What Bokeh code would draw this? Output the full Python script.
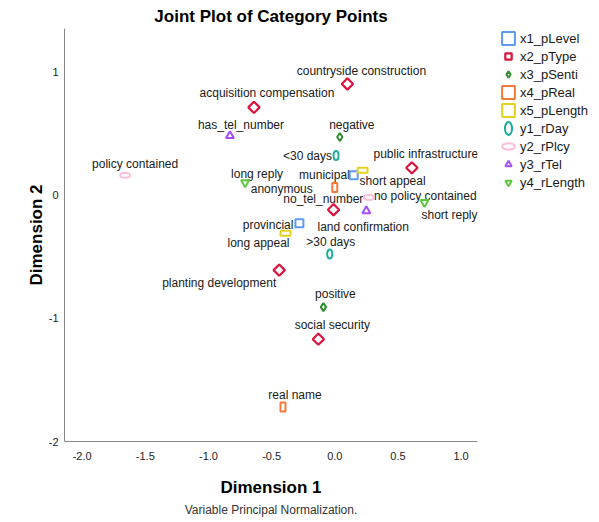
import math
from bokeh.plotting import figure
from bokeh.models import (ColumnDataSource, Legend, LegendItem, Title, FixedTicker,
                          PrintfTickFormatter, Range1d)
from bokeh.embed import file_html
from bokeh.resources import INLINE
from bokeh.core.properties import value, field

# ---------------- data ----------------
series_names = ["x1_pLevel", "x2_pType", "x3_pSenti", "x4_pReal", "x5_pLength",
                "y1_rDay", "y2_rPlcy", "y3_rTel", "y4_rLength"]

x1_labels = ["municipal", "provincial"]
x1_dim1 = [0.15, -0.28]
x1_dim2 = [0.16, -0.23]

x2_labels = ["countryside construction", "acquisition compensation", "public infrastructure",
             "land confirmation", "planting development", "social security"]
x2_dim1 = [0.10, -0.64, 0.61, -0.01, -0.44, -0.13]
x2_dim2 = [0.90, 0.71, 0.22, -0.12, -0.61, -1.17]

x3_labels = ["negative", "positive"]
x3_dim1 = [0.04, -0.09]
x3_dim2 = [0.47, -0.91]

x4_labels = ["anonymous", "real name"]
x4_dim1 = [0.00, -0.41]
x4_dim2 = [0.06, -1.72]

x5_labels = ["short appeal", "long appeal"]
x5_dim1 = [0.22, -0.39]
x5_dim2 = [0.20, -0.31]

y1_labels = ["<30 days", ">30 days"]
y1_dim1 = [0.01, -0.04]
y1_dim2 = [0.32, -0.48]

y2_labels = ["policy contained", "no policy contained"]
y2_dim1 = [-1.66, 0.27]
y2_dim2 = [0.16, -0.02]

y3_labels = ["has_tel_number", "no_tel_number"]
y3_dim1 = [-0.83, 0.25]
y3_dim2 = [0.48, -0.13]

y4_labels = ["long reply", "short reply"]
y4_dim1 = [-0.71, 0.71]
y4_dim2 = [0.10, -0.06]

x_ticks = [-2.0, -1.5, -1.0, -0.5, 0.0, 0.5, 1.0]
y_ticks = [-2, -1, 0, 1]

# ---------------- styling / layout ----------------
FONT = "Liberation Sans"
colors = {
    "x1_pLevel": "#5e9bf0", "x2_pType": "#dc143c", "x3_pSenti": "#2e8b2e",
    "x4_pReal": "#f47a3a", "x5_pLength": "#e6d21c", "y1_rDay": "#1aae9f",
    "y2_rPlcy": "#ffbcdc", "y3_rTel": "#a64dff", "y4_rLength": "#5cc83c",
}
# label placement (screen px offsets from the point, y down) and alignment
label_layout = {
    "municipal": (-4, 0, "right"), "provincial": (-6, 2, "right"),
    "countryside construction": (14, -13, "center"), "acquisition compensation": (13, -14, "center"),
    "public infrastructure": (14, -14, "center"), "land confirmation": (-16, 17, "left"),
    "planting development": (-3, 13, "right"), "social security": (14, -14, "center"),
    "negative": (12, -12, "center"), "positive": (12, -13, "center"),
    "anonymous": (-22, 1, "right"), "real name": (12, -12, "center"),
    "short appeal": (-3, 11, "left"), "long appeal": (4, 10, "right"),
    "<30 days": (-4, 1, "right"), ">30 days": (1, -12, "center"),
    "policy contained": (10, -11, "center"), "no policy contained": (5, -1, "left"),
    "has_tel_number": (11, -11, "center"), "no_tel_number": (-3, -12, "right"),
    "long reply": (12, -9, "center"), "short reply": (-3, 13, "left"),
}

p = figure(frame_width=413, frame_height=413,
           x_range=Range1d(-2.14, 1.13), y_range=Range1d(-2.0, 1.35),
           output_backend="svg", toolbar_location=None,
           min_border_left=64, min_border_right=114, min_border_top=28, min_border_bottom=0)

p.title.text = "Joint Plot of Category Points"
p.title.align = "center"
p.title.text_font = FONT
p.title.text_font_size = "17px"
p.title.text_font_style = "bold"
p.title.text_color = "#000000"
p.title.standoff = 6

p.xgrid.visible = False
p.ygrid.visible = False
p.outline_line_color = None

for ax in (p.xaxis[0], p.yaxis[0]):
    ax.axis_line_color = "#888888"
    ax.axis_line_width = 1
    ax.major_tick_line_color = None
    ax.minor_tick_line_color = None
    ax.major_tick_out = 0
    ax.major_tick_in = 0
    ax.major_label_text_font = FONT
    ax.major_label_text_font_size = "11px"
    ax.major_label_text_color = "#222222"
    ax.axis_label_text_font = FONT
    ax.axis_label_text_font_size = "17px"
    ax.axis_label_text_font_style = "bold"
    ax.axis_label_text_color = "#000000"

p.xaxis[0].ticker = FixedTicker(ticks=x_ticks)
p.xaxis[0].formatter = PrintfTickFormatter(format="%.1f")
p.xaxis[0].axis_label = "Dimension 1"
p.xaxis[0].major_label_standoff = 10
p.xaxis[0].axis_label_standoff = 15
p.yaxis[0].ticker = FixedTicker(ticks=y_ticks)
p.yaxis[0].formatter = PrintfTickFormatter(format="%d")
p.yaxis[0].axis_label = "Dimension 2"
p.yaxis[0].major_label_standoff = 6
p.yaxis[0].axis_label_standoff = 0

sub = Title(text="Variable Principal Normalization.", align="center", text_font=FONT,
            text_font_size="12px", text_font_style="normal", text_color="#333333",
            standoff=2)
p.add_layout(sub, "below")

all_series = [
    ("x1_pLevel", x1_labels, x1_dim1, x1_dim2),
    ("x2_pType", x2_labels, x2_dim1, x2_dim2),
    ("x3_pSenti", x3_labels, x3_dim1, x3_dim2),
    ("x4_pReal", x4_labels, x4_dim1, x4_dim2),
    ("x5_pLength", x5_labels, x5_dim1, x5_dim2),
    ("y1_rDay", y1_labels, y1_dim1, y1_dim2),
    ("y2_rPlcy", y2_labels, y2_dim1, y2_dim2),
    ("y3_rTel", y3_labels, y3_dim1, y3_dim2),
    ("y4_rLength", y4_labels, y4_dim1, y4_dim2),
]

# labels first so markers sit on top
lab_x, lab_y, lab_t, lab_dx, lab_dy, lab_al = [], [], [], [], [], []
for name, labels, d1, d2 in all_series:
    for lab, xv, yv in zip(labels, d1, d2):
        dx, dy, al = label_layout[lab]
        lab_x.append(xv); lab_y.append(yv); lab_t.append(lab)
        lab_dx.append(dx); lab_dy.append(dy); lab_al.append(al)
lsrc = ColumnDataSource(dict(x=lab_x, y=lab_y, text=lab_t, dx=lab_dx, dy=lab_dy, align=lab_al))
p.text(x="x", y="y", text="text", source=lsrc, x_offset=field("dx"), y_offset=field("dy"),
       text_align=field("align"), text_baseline="middle", text_font=value(FONT),
       text_font_size="12px", text_color="#1a1a1a")

renderers = {}
for name, labels, d1, d2 in all_series:
    src = ColumnDataSource(dict(x=d1, y=d2, label=labels))
    c = colors[name]
    if name == "x1_pLevel":
        r = p.rect("x", "y", width=8, height=8, width_units="screen", height_units="screen",
                   source=src, fill_color=None, line_color=c, line_width=2)
    elif name == "x2_pType":
        r = p.scatter("x", "y", marker="square", angle=math.pi / 4, size=8, source=src,
                      fill_color=None, line_color=c, line_width=2.2)
    elif name == "x3_pSenti":
        r = p.scatter("x", "y", marker="diamond", size=8, source=src,
                      fill_color=None, line_color=c, line_width=2)
    elif name == "x4_pReal":
        r = p.rect("x", "y", width=5, height=9, width_units="screen", height_units="screen",
                   source=src, fill_color=None, line_color=c, line_width=2)
    elif name == "x5_pLength":
        r = p.rect("x", "y", width=10, height=5, width_units="screen", height_units="screen",
                   source=src, fill_color=None, line_color=c, line_width=2)
    elif name == "y1_rDay":
        r = p.ellipse("x", "y", width=5, height=9, width_units="screen", height_units="screen",
                      source=src, fill_color=None, line_color=c, line_width=2)
    elif name == "y2_rPlcy":
        r = p.ellipse("x", "y", width=10, height=5, width_units="screen", height_units="screen",
                      source=src, fill_color=None, line_color=c, line_width=2)
    elif name == "y3_rTel":
        r = p.scatter("x", "y", marker="triangle", size=8, source=src,
                      fill_color=None, line_color=c, line_width=2)
    else:
        r = p.scatter("x", "y", marker="inverted_triangle", size=8, source=src,
                      fill_color=None, line_color=c, line_width=2)
    renderers[name] = r

items = [LegendItem(label=n, renderers=[renderers[n]]) for n in series_names]
legend = Legend(items=items, location=(23, 251), orientation="vertical",
                glyph_width=16, glyph_height=16, label_height=16, spacing=2,
                label_standoff=4, padding=0, margin=0,
                label_text_font=FONT, label_text_font_size="13px", label_text_color="#1a1a1a",
                background_fill_alpha=0, border_line_alpha=0)
p.add_layout(legend, "right")

open("out.html", "w").write(file_html(p, INLINE))
